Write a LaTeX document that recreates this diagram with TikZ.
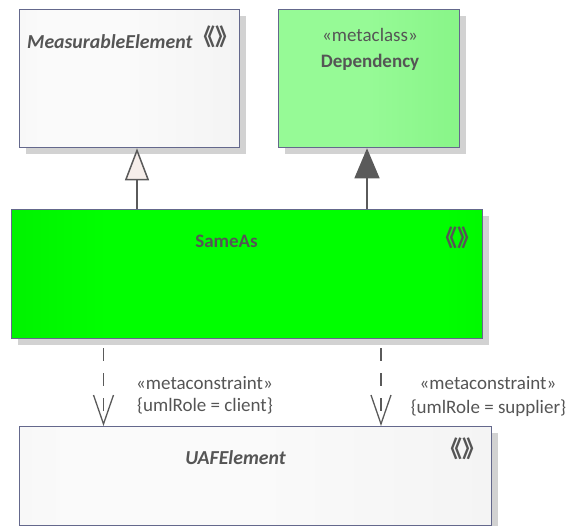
\documentclass[tikz,border=0pt]{standalone}
\usepackage{fontspec}
\setmainfont{Carlito}
\newfontfamily\cjk{Noto Sans CJK SC}
\usetikzlibrary{arrows.meta}
\definecolor{txt}{RGB}{85,85,85}
\definecolor{bord}{RGB}{100,104,140}
\definecolor{shad}{RGB}{210,210,210}
\definecolor{ln}{RGB}{90,90,90}
\definecolor{genfill}{RGB}{246,238,234}
\definecolor{grayL}{RGB}{238,238,238}
\definecolor{grayM}{RGB}{250,250,250}
\definecolor{grayR}{RGB}{238,238,238}
\definecolor{depL}{RGB}{128,240,128}
\definecolor{depM}{RGB}{150,250,150}
\definecolor{depR}{RGB}{122,240,122}
\definecolor{saL}{RGB}{0,212,0}
\definecolor{saM}{RGB}{0,255,0}
\definecolor{saR}{RGB}{0,222,0}
\pgfdeclarehorizontalshading{grayshade}{100bp}{color(0bp)=(grayL); color(30bp)=(grayM); color(50bp)=(grayM); color(100bp)=(grayR)}
\pgfdeclarehorizontalshading{depshade}{100bp}{color(0bp)=(depL); color(25bp)=(depM); color(50bp)=(depM); color(100bp)=(depR)}
\pgfdeclarehorizontalshading{sashade}{100bp}{color(0bp)=(saL); color(35bp)=(saM); color(70bp)=(saM); color(100bp)=(saR)}
\begin{document}
\begin{tikzpicture}[x=1pt,y=-1pt,
  box/.style={draw=bord, line width=1.3pt, inner sep=0pt, anchor=north west,
    preaction={fill=shad, draw=none, transform canvas={xshift=6pt, yshift=-6pt}}},
  graybox/.style={box, shading=grayshade},
  depbox/.style={box, shading=depshade},
  sabox/.style={box, shading=sashade},
  lbl/.style={text=txt, inner sep=0pt, font=\fontsize{19}{22}\selectfont},
  nm/.style={lbl, font=\fontsize{19}{22}\selectfont\bfseries},
  inm/.style={lbl, font=\fontsize{19.8}{22}\selectfont\bfseries\itshape},
  chev/.style={text=txt, inner sep=0pt, font=\fontsize{23}{26}\selectfont\cjk\bfseries},
  genarrow/.style={line width=1.5pt, draw=ln, -{Triangle[length=32pt, width=24pt, fill=genfill]}},
  realarrow/.style={line width=1.5pt, draw=ln, -{Triangle[length=30pt, width=25pt, fill=ln]}},
  depend/.style={line width=1.3pt, draw=ln, dash pattern=on 13pt off 12pt, dash phase=16pt,
    -{Straight Barb[length=29pt, width=20pt]}}
]
\useasboundingbox (0,0) rectangle (570,526);

\node[graybox, minimum width=220pt, minimum height=138pt] (me) at (19,9) {};
\node[depbox, minimum width=181pt, minimum height=138pt] (dep) at (278,9) {};
\node[sabox, minimum width=471pt, minimum height=129pt] (sa) at (11,209) {};
\node[graybox, minimum width=472pt, minimum height=99pt] (uaf) at (19,426) {};

\node[inm, anchor=west] (mename) at (27,42) {MeasurableElement};
\node[chev] (mechev) at (215,37) {《》};
\node[lbl] (depst) at (370,35) {«metaclass»};
\node[nm] (depname) at (370,62) {Dependency};
\node[nm] (saname) at (226.5,241) {SameAs};
\node[chev] (sachev) at (457.5,238) {《》};
\node[inm] (uafname) at (235.5,458) {UAFElement};
\node[chev] (uafchev) at (462.5,449) {《》};

\coordinate (g1) at (137,0);
\coordinate (g2) at (367,0);
\coordinate (d1) at (103.5,0);
\coordinate (d2) at (381,0);

\draw[genarrow] (sa.north -| g1) -- (me.south -| g1);
\draw[realarrow] (sa.north -| g2) -- (dep.south -| g2);
\draw[depend] (sa.south -| d1) -- (uaf.north -| d1);
\draw[depend] (sa.south -| d2) -- (uaf.north -| d2);

\node[lbl] (c1a) at (204.5,383) {«metaconstraint»};
\node[lbl] (c1b) at (205,406) {\{umlRole = client\}};
\node[lbl] (c2a) at (488,383) {«metaconstraint»};
\node[lbl] (c2b) at (488.5,408) {\{umlRole = supplier\}};
\end{tikzpicture}
\end{document}
